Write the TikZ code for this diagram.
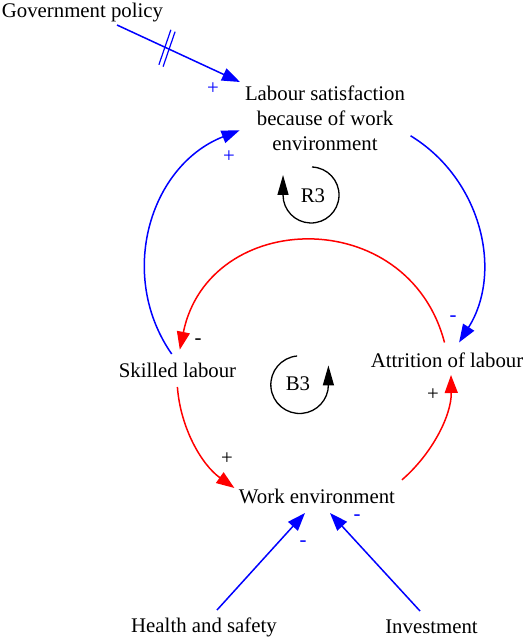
\documentclass[tikz,border=0pt]{standalone}
\usepackage{fontspec}
\setmainfont{Liberation Serif}
\usetikzlibrary{arrows.meta}
\definecolor{cldblue}{RGB}{0,0,255}
\definecolor{cldred}{RGB}{255,0,0}
\begin{document}
\begin{tikzpicture}[x=1pt,y=1pt,
  every node/.style={font=\fontsize{20.8}{25}\selectfont, inner sep=0pt},
  var/.style={anchor=base},
  blink/.style={draw=cldblue, line width=1.5pt, -{Triangle[length=18pt,width=13pt]}},
  rlink/.style={draw=cldred, line width=1.5pt, -{Triangle[length=18pt,width=13pt]}},
  hashmark/.style={draw=cldblue, line width=1.2pt},
  loopline/.style={draw=black, line width=1.3pt, -{Triangle[length=20pt,width=11pt]}},
  bsign/.style={text=cldblue},
  ksign/.style={text=black}
]
\useasboundingbox (0,0) rectangle (525,-637);

% variables
\node[var] (gov) at (82.5,-17) {Government policy};
\node[align=center] (lab) at (325,-118) {Labour satisfaction\\because of work\\environment};
\node[var] (sk) at (177.5,-377) {Skilled labour};
\node[var] (att) at (447,-367) {Attrition of labour};
\node[var] (wk) at (317,-503) {Work environment};
\node[var] (hs) at (204,-632) {Health and safety};
\node[var] (inv) at (431.5,-633) {Investment};

% loop labels
\node[var] (r3) at (313,-202) {R3};
\node[var] (b3) at (298,-390) {B3};

% links
\draw[blink] ([shift={(34.5,-8)}]gov.base) -- coordinate[pos=0.4065] (hm) ([shift={(-85,36)}]lab.center);
\draw[hashmark] ([shift={(-8.1,-16.55)}]hm) -- ([shift={(3.9,18.45)}]hm);
\draw[hashmark] ([shift={(-3.9,-18.45)}]hm) -- ([shift={(8.1,16.55)}]hm);

\draw[blink] ([shift={(-5.8,23)}]sk.base) .. controls +(-55.0,79.1) and +(-89.7,-35.1) .. ([shift={(-85.4,-12.3)}]lab.center);
\draw[blink] ([shift={(85.6,-17.8)}]lab.center) .. controls +(70.9,-43.3) and +(44.3,70.3) .. ([shift={(12.1,24.6)}]att.base);

\draw[rlink] ([shift={(-2.5,24.5)}]att.base) .. controls +(-36.5,139.2) and +(28.9,141.0) .. ([shift={(2.3,27.3)}]sk.base);
\draw[rlink] ([shift={(-0.1,-10)}]sk.base) .. controls +(3.0,-40.5) and +(-33.1,23.5) .. ([shift={(-82.6,15)}]wk.base);
\draw[rlink] ([shift={(84.9,23.1)}]wk.base) .. controls +(30.4,26.3) and +(0.6,-40.2) .. ([shift={(4,-8)}]att.base);

\draw[blink] ([shift={(13,22)}]hs.base) -- ([shift={(-12,-10)}]wk.base);
\draw[blink] ([shift={(-11.5,22)}]inv.base) -- ([shift={(13,-10)}]wk.base);

% loop symbols
\draw[loopline] ([shift={(-1,35)}]r3.base) arc[start angle=88, end angle=-180, radius=28] -- ++(0,20);
\draw[loopline] ([shift={(-0.9,34)}]b3.base) arc[start angle=95, end angle=360, radius=28.8] -- ++(0,19.3);

% polarities
\node[bsign] at (213,-89) {+};
\node[bsign] at (229,-157) {+};
\node[bsign] at (453,-319) {-};
\node[ksign] at (198,-342) {-};
\node[ksign] at (227,-459) {+};
\node[ksign] at (433,-395) {+};
\node[bsign] at (303,-544) {-};
\node[bsign] at (357,-518) {-};
\end{tikzpicture}
\end{document}
